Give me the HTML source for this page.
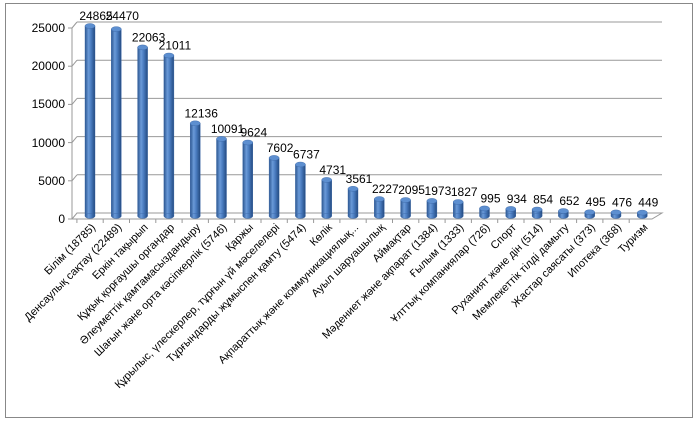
<!DOCTYPE html>
<html><head><meta charset="utf-8"><style>
body{margin:0;background:#fff;}
svg{display:block;font-family:"Liberation Sans","DejaVu Sans",sans-serif;}
</style></head><body>
<svg width="700" height="425" viewBox="0 0 700 425">
<defs>
<linearGradient id="cyl" x1="0" x2="1" y1="0" y2="0">
<stop offset="0" stop-color="#2c5690"/>
<stop offset="0.35" stop-color="#6a9ad8"/>
<stop offset="0.6" stop-color="#4a7cc0"/>
<stop offset="1" stop-color="#234a80"/>
</linearGradient>
<g id="b"><rect x="-5" y="0" width="10" height="1" fill="url(#cyl)"/></g>
</defs>
<rect x="5.5" y="3.5" width="687" height="414" fill="#fff" stroke="#888" stroke-width="1"/>
<g stroke="#999" stroke-width="1" fill="none">
<line x1="77" y1="22" x2="662" y2="22"/>
<line x1="77" y1="60.2" x2="662" y2="60.2"/>
<line x1="77" y1="98.4" x2="662" y2="98.4"/>
<line x1="77" y1="136.6" x2="662" y2="136.6"/>
<line x1="77" y1="174.8" x2="662" y2="174.8"/>
<polygon points="72,219 652,219 662,213 77,213"/>
<line x1="72" y1="28" x2="72" y2="219"/>
<line x1="72" y1="28" x2="77" y2="22"/><line x1="72" y1="66.2" x2="77" y2="60.2"/><line x1="72" y1="104.4" x2="77" y2="98.4"/><line x1="72" y1="142.6" x2="77" y2="136.6"/><line x1="72" y1="180.8" x2="77" y2="174.8"/>
<line x1="68" y1="28" x2="72" y2="28"/><line x1="68" y1="66.2" x2="72" y2="66.2"/><line x1="68" y1="104.4" x2="72" y2="104.4"/><line x1="68" y1="142.6" x2="72" y2="142.6"/><line x1="68" y1="180.8" x2="72" y2="180.8"/><line x1="68" y1="219" x2="72" y2="219"/>
<path d="M76.9 219v4M103.2 219v4M129.5 219v4M155.8 219v4M182.1 219v4M208.4 219v4M234.7 219v4M261 219v4M287.3 219v4M313.6 219v4M339.9 219v4M366.2 219v4M392.5 219v4M418.8 219v4M445.1 219v4M471.4 219v4M497.7 219v4M524 219v4M550.3 219v4M576.6 219v4M602.9 219v4M629.2 219v4"/>
</g>
<g font-size="12" fill="#000" text-anchor="end">
<text x="65" y="32">25000</text><text x="65" y="70">20000</text><text x="65" y="108">15000</text><text x="65" y="147">10000</text><text x="65" y="185">5000</text><text x="65" y="223">0</text>
</g>
<g stroke="#3a66a5" stroke-width="0.4">
<rect x="85" y="26" width="10" height="190" fill="url(#cyl)"/><ellipse cx="90" cy="216" rx="5" ry="2.5" fill="url(#cyl)"/><ellipse cx="90" cy="26" rx="5" ry="2.5" fill="#5d8fd0"/>
<rect x="111.3" y="29.1" width="10" height="186.9" fill="url(#cyl)"/><ellipse cx="116.3" cy="216" rx="5" ry="2.5" fill="url(#cyl)"/><ellipse cx="116.3" cy="29.1" rx="5" ry="2.5" fill="#5d8fd0"/>
<rect x="137.6" y="47.4" width="10" height="168.6" fill="url(#cyl)"/><ellipse cx="142.6" cy="216" rx="5" ry="2.5" fill="url(#cyl)"/><ellipse cx="142.6" cy="47.4" rx="5" ry="2.5" fill="#5d8fd0"/>
<rect x="163.9" y="55.5" width="10" height="160.5" fill="url(#cyl)"/><ellipse cx="168.9" cy="216" rx="5" ry="2.5" fill="url(#cyl)"/><ellipse cx="168.9" cy="55.5" rx="5" ry="2.5" fill="#5d8fd0"/>
<rect x="190.2" y="123.3" width="10" height="92.7" fill="url(#cyl)"/><ellipse cx="195.2" cy="216" rx="5" ry="2.5" fill="url(#cyl)"/><ellipse cx="195.2" cy="123.3" rx="5" ry="2.5" fill="#5d8fd0"/>
<rect x="216.5" y="138.9" width="10" height="77.1" fill="url(#cyl)"/><ellipse cx="221.5" cy="216" rx="5" ry="2.5" fill="url(#cyl)"/><ellipse cx="221.5" cy="138.9" rx="5" ry="2.5" fill="#5d8fd0"/>
<rect x="242.8" y="142.5" width="10" height="73.5" fill="url(#cyl)"/><ellipse cx="247.8" cy="216" rx="5" ry="2.5" fill="url(#cyl)"/><ellipse cx="247.8" cy="142.5" rx="5" ry="2.5" fill="#5d8fd0"/>
<rect x="269.1" y="157.9" width="10" height="58.1" fill="url(#cyl)"/><ellipse cx="274.1" cy="216" rx="5" ry="2.5" fill="url(#cyl)"/><ellipse cx="274.1" cy="157.9" rx="5" ry="2.5" fill="#5d8fd0"/>
<rect x="295.4" y="164.5" width="10" height="51.5" fill="url(#cyl)"/><ellipse cx="300.4" cy="216" rx="5" ry="2.5" fill="url(#cyl)"/><ellipse cx="300.4" cy="164.5" rx="5" ry="2.5" fill="#5d8fd0"/>
<rect x="321.7" y="179.9" width="10" height="36.1" fill="url(#cyl)"/><ellipse cx="326.7" cy="216" rx="5" ry="2.5" fill="url(#cyl)"/><ellipse cx="326.7" cy="179.9" rx="5" ry="2.5" fill="#5d8fd0"/>
<rect x="348" y="188.8" width="10" height="27.2" fill="url(#cyl)"/><ellipse cx="353" cy="216" rx="5" ry="2.5" fill="url(#cyl)"/><ellipse cx="353" cy="188.8" rx="5" ry="2.5" fill="#5d8fd0"/>
<rect x="374.3" y="199" width="10" height="17" fill="url(#cyl)"/><ellipse cx="379.3" cy="216" rx="5" ry="2.5" fill="url(#cyl)"/><ellipse cx="379.3" cy="199" rx="5" ry="2.5" fill="#5d8fd0"/>
<rect x="400.6" y="200" width="10" height="16" fill="url(#cyl)"/><ellipse cx="405.6" cy="216" rx="5" ry="2.5" fill="url(#cyl)"/><ellipse cx="405.6" cy="200" rx="5" ry="2.5" fill="#5d8fd0"/>
<rect x="426.9" y="200.9" width="10" height="15.1" fill="url(#cyl)"/><ellipse cx="431.9" cy="216" rx="5" ry="2.5" fill="url(#cyl)"/><ellipse cx="431.9" cy="200.9" rx="5" ry="2.5" fill="#5d8fd0"/>
<rect x="453.2" y="202" width="10" height="14" fill="url(#cyl)"/><ellipse cx="458.2" cy="216" rx="5" ry="2.5" fill="url(#cyl)"/><ellipse cx="458.2" cy="202" rx="5" ry="2.5" fill="#5d8fd0"/>
<rect x="479.5" y="208.4" width="10" height="7.6" fill="url(#cyl)"/><ellipse cx="484.5" cy="216" rx="5" ry="2.5" fill="url(#cyl)"/><ellipse cx="484.5" cy="208.4" rx="5" ry="2.5" fill="#5d8fd0"/>
<rect x="505.8" y="208.9" width="10" height="7.1" fill="url(#cyl)"/><ellipse cx="510.8" cy="216" rx="5" ry="2.5" fill="url(#cyl)"/><ellipse cx="510.8" cy="208.9" rx="5" ry="2.5" fill="#5d8fd0"/>
<rect x="532.1" y="209.5" width="10" height="6.5" fill="url(#cyl)"/><ellipse cx="537.1" cy="216" rx="5" ry="2.5" fill="url(#cyl)"/><ellipse cx="537.1" cy="209.5" rx="5" ry="2.5" fill="#5d8fd0"/>
<rect x="558.4" y="211" width="10" height="5" fill="url(#cyl)"/><ellipse cx="563.4" cy="216" rx="5" ry="2.5" fill="url(#cyl)"/><ellipse cx="563.4" cy="211" rx="5" ry="2.5" fill="#5d8fd0"/>
<rect x="584.7" y="212.2" width="10" height="3.8" fill="url(#cyl)"/><ellipse cx="589.7" cy="216" rx="5" ry="2.5" fill="url(#cyl)"/><ellipse cx="589.7" cy="212.2" rx="5" ry="2.5" fill="#5d8fd0"/>
<rect x="611" y="212.4" width="10" height="3.6" fill="url(#cyl)"/><ellipse cx="616" cy="216" rx="5" ry="2.5" fill="url(#cyl)"/><ellipse cx="616" cy="212.4" rx="5" ry="2.5" fill="#5d8fd0"/>
<rect x="637.3" y="212.6" width="10" height="3.4" fill="url(#cyl)"/><ellipse cx="642.3" cy="216" rx="5" ry="2.5" fill="url(#cyl)"/><ellipse cx="642.3" cy="212.6" rx="5" ry="2.5" fill="#5d8fd0"/>
</g>
<g font-size="12" fill="#000" text-anchor="middle">
<text x="96" y="20">24865</text>
<text x="122.3" y="20">24470</text>
<text x="148.6" y="41.4">22063</text>
<text x="174.9" y="49.5">21011</text>
<text x="201.2" y="117.3">12136</text>
<text x="227.5" y="132.9">10091</text>
<text x="253.8" y="136.5">9624</text>
<text x="280.1" y="151.9">7602</text>
<text x="306.4" y="158.5">6737</text>
<text x="332.7" y="173.9">4731</text>
<text x="359" y="182.8">3561</text>
<text x="385.3" y="193">2227</text>
<text x="411.6" y="194">2095</text>
<text x="437.9" y="194.9">1973</text>
<text x="464.2" y="196">1827</text>
<text x="490.5" y="202.4">995</text>
<text x="516.8" y="202.9">934</text>
<text x="543.1" y="203.5">854</text>
<text x="569.4" y="205">652</text>
<text x="595.7" y="206.2">495</text>
<text x="622" y="206.4">476</text>
<text x="648.3" y="206.6">449</text>
</g>
<g font-size="11" fill="#000" text-anchor="end">
<text transform="translate(96,228) rotate(-45)">Білім (18785)</text>
<text transform="translate(122.3,228) rotate(-45)">Денсаулық сақтау (22489)</text>
<text transform="translate(148.6,228) rotate(-45)">Еркін тақырып</text>
<text transform="translate(174.9,228) rotate(-45)">Құқық қорғаушы органдар</text>
<text transform="translate(201.2,228) rotate(-45)">Әлеуметтік қамтамасыздандыру</text>
<text transform="translate(227.5,228) rotate(-45)">Шағын және орта кәсіпкерлік (5746)</text>
<text transform="translate(253.8,228) rotate(-45)">Қаржы</text>
<text transform="translate(280.1,228) rotate(-45)">Құрылыс, үлескерлер, тұрғын үй мәселелері</text>
<text transform="translate(306.4,228) rotate(-45)">Тұрғындарды жұмыспен қамту (5474)</text>
<text transform="translate(332.7,228) rotate(-45)">Көлік</text>
<text transform="translate(359,228) rotate(-45)">Ақпараттық және коммуникациялық...</text>
<text transform="translate(385.3,228) rotate(-45)">Ауыл шаруашылық</text>
<text transform="translate(411.6,228) rotate(-45)">Аймақтар</text>
<text transform="translate(437.9,228) rotate(-45)">Мәдениет және ақпарат (1384)</text>
<text transform="translate(464.2,228) rotate(-45)">Ғылым (1333)</text>
<text transform="translate(490.5,228) rotate(-45)">Ұлттық компаниялар (726)</text>
<text transform="translate(516.8,228) rotate(-45)">Спорт</text>
<text transform="translate(543.1,228) rotate(-45)">Руханият және дін (514)</text>
<text transform="translate(569.4,228) rotate(-45)">Мемлекеттік тілді дамыту</text>
<text transform="translate(595.7,228) rotate(-45)">Жастар саясаты (373)</text>
<text transform="translate(622,228) rotate(-45)">Ипотека (368)</text>
<text transform="translate(648.3,228) rotate(-45)">Туризм</text>
</g>
</svg>
</body></html>
